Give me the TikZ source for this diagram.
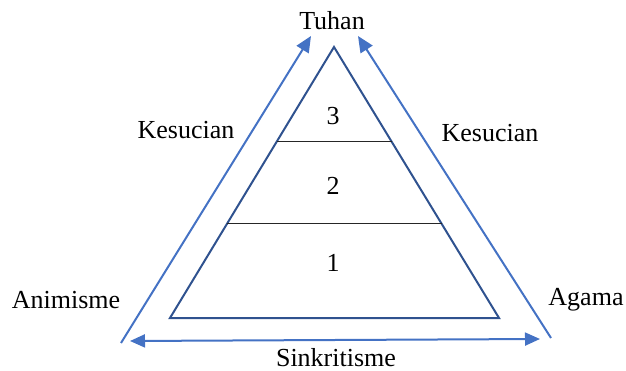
\documentclass[tikz,border=0pt]{standalone}
\usepackage{fontspec}
\setmainfont{Liberation Serif}
\usetikzlibrary{arrows.meta}
\definecolor{arrowblue}{HTML}{4472C4}
\definecolor{tridark}{HTML}{2F528F}
\begin{document}
\begin{tikzpicture}[x=1pt,y=-1pt,
  lbl/.style={font=\fontsize{26}{30}\selectfont, inner sep=0pt, text=black},
  arr/.style={draw=arrowblue, line width=2pt, -{Triangle[length=16pt,width=14pt]}},
  darr/.style={draw=arrowblue, line width=2pt, {Triangle[length=15pt,width=13pt]}-{Triangle[length=15pt,width=13pt]}},
  tri/.style={draw=tridark, line width=2pt, line join=miter},
  sep/.style={draw=black!85, line width=1pt}]
\useasboundingbox (0,0) rectangle (626,371);
% triangle corners
\coordinate (A) at (334,47);
\coordinate (BL) at (170,318);
\coordinate (BR) at (499,318);
\draw[tri] (A) -- (BL) -- (BR) -- cycle;
\coordinate (s1l) at (277,142);
\coordinate (s1r) at (392,142);
\coordinate (s2l) at (227,224);
\coordinate (s2r) at (442,224);
\draw[sep] (s1l) -- (s1r);
\draw[sep] (s2l) -- (s2r);
\node[lbl] (n3) at (333,116) {3};
\node[lbl] (n2) at (333,186) {2};
\node[lbl] (n1) at (333,263) {1};
% arrows
\coordinate (la) at (121,343);
\coordinate (lt) at (311,36);
\coordinate (ra) at (551,338);
\coordinate (rt) at (358,36);
\coordinate (bl) at (130,341);
\coordinate (br) at (540,339);
\draw[arr] (la) -- (lt);
\draw[arr] (ra) -- (rt);
\draw[darr] (bl) -- (br);
% labels
\node[lbl] (tuhan) at (332,21) {Tuhan};
\node[lbl] (kesL) at (186,130) {Kesucian};
\node[lbl] (kesR) at (490,133) {Kesucian};
\node[lbl] (anim) at (66,300) {Animisme};
\node[lbl] (agama) at (586,300) {Agama};
\node[lbl] (sink) at (336,358) {Sinkritisme};
\end{tikzpicture}
\end{document}
